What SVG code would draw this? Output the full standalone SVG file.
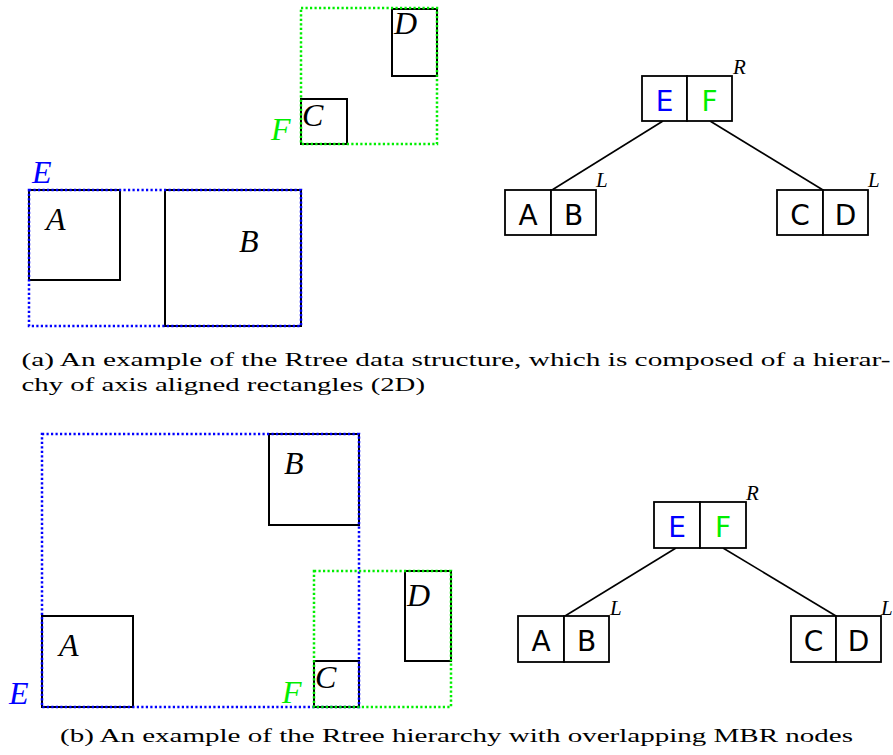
<svg xmlns="http://www.w3.org/2000/svg" width="893" height="755" viewBox="0 0 893 755">
  <style>
    .box { fill: none; stroke: #000; stroke-width: 2; }
    .mbrE { fill: none; stroke: #0000ff; stroke-width: 2.5; stroke-dasharray: 2.2 2.3; }
    .mbrF { fill: none; stroke: #00ee00; stroke-width: 2.5; stroke-dasharray: 2.2 2.3; }
    .lbl { font-family: "Liberation Serif", "DejaVu Serif", serif; font-style: italic; font-size: 32px; fill: #000; }
    .sup { font-family: "Liberation Serif", "DejaVu Serif", serif; font-style: italic; font-size: 21px; fill: #000; }
    .cell { fill: #fff; stroke: #000; stroke-width: 1.8; }
    .key { font-family: "DejaVu Sans", "Liberation Sans", sans-serif; font-size: 28px; text-anchor: middle; fill: #000; }
    .edge { stroke: #000; stroke-width: 1.6; fill: none; }
    .cap { font-family: "Liberation Serif", "DejaVu Serif", serif; font-size: 19.5px; fill: #000; }
    .blue { fill: #0000ff; }
    .green { fill: #00ee00; }
  </style>

  <!-- (a) spatial layout -->
  <g id="a-rect-A"><rect class="box" x="29" y="190" width="91" height="90"/><text class="lbl" x="46" y="230">A</text></g>
  <g id="a-rect-B"><rect class="box" x="165" y="190" width="136" height="136"/><text class="lbl" x="239" y="252">B</text></g>
  <g id="a-rect-C"><rect class="box" x="301" y="99" width="46" height="45"/><text class="lbl" x="302" y="126">C</text></g>
  <g id="a-rect-D"><rect class="box" x="392" y="9" width="45" height="67"/><text class="lbl" x="394" y="34">D</text></g>
  <g id="a-mbr-E"><rect class="mbrE" x="29" y="190" width="272" height="136"/><text class="lbl blue" x="32" y="183">E</text></g>
  <g id="a-mbr-F"><rect class="mbrF" x="301" y="8" width="136" height="136"/><text class="lbl green" x="271" y="140">F</text></g>

  <!-- (a) tree -->
  <g id="a-connectors">
    <line class="edge" x1="663" y1="121" x2="552" y2="190"/>
    <line class="edge" x1="710" y1="121" x2="823" y2="190"/>
  </g>
  <g id="a-root">
    <rect class="cell" x="642" y="76" width="45" height="45"/>
    <rect class="cell" x="687" y="76" width="45" height="45"/>
    <text class="key blue" x="664.5" y="110.5">E</text>
    <text class="key green" x="709.5" y="110.5">F</text>
    <text class="sup" x="733" y="74">R</text>
  </g>
  <g id="a-leaf-AB">
    <rect class="cell" x="505" y="190" width="46" height="45"/>
    <rect class="cell" x="551" y="190" width="45" height="45"/>
    <text class="key" x="528" y="224.5">A</text>
    <text class="key" x="573.5" y="224.5">B</text>
    <text class="sup" x="596" y="187">L</text>
  </g>
  <g id="a-leaf-CD">
    <rect class="cell" x="777" y="190" width="46" height="45"/>
    <rect class="cell" x="823" y="190" width="45" height="45"/>
    <text class="key" x="800" y="224.5">C</text>
    <text class="key" x="845.5" y="224.5">D</text>
    <text class="sup" x="868" y="187">L</text>
  </g>

  <text class="cap" x="21.5" y="366" textLength="869" lengthAdjust="spacingAndGlyphs">(a) An example of the Rtree data structure, which is composed of a hierar-</text>
  <text class="cap" x="21.5" y="391" textLength="403.5" lengthAdjust="spacingAndGlyphs">chy of axis aligned rectangles (2D)</text>

  <!-- (b) spatial layout -->
  <g id="b-rect-A"><rect class="box" x="42" y="616" width="91" height="91"/><text class="lbl" x="59" y="656">A</text></g>
  <g id="b-rect-B"><rect class="box" x="269" y="434" width="90" height="91"/><text class="lbl" x="284" y="474">B</text></g>
  <g id="b-rect-C"><rect class="box" x="314" y="661" width="45" height="46"/><text class="lbl" x="315" y="688">C</text></g>
  <g id="b-rect-D"><rect class="box" x="405" y="571" width="46" height="90"/><text class="lbl" x="407" y="606">D</text></g>
  <g id="b-mbr-E"><rect class="mbrE" x="42" y="434" width="317" height="273"/><text class="lbl blue" x="9" y="704">E</text></g>
  <g id="b-mbr-F"><rect class="mbrF" x="314" y="571" width="137" height="136"/><text class="lbl green" x="282" y="703">F</text></g>

  <!-- (b) tree -->
  <g id="b-connectors">
    <line class="edge" x1="676" y1="548" x2="565" y2="616"/>
    <line class="edge" x1="723" y1="548" x2="836" y2="616"/>
  </g>
  <g id="b-root">
    <rect class="cell" x="654" y="502" width="46" height="46"/>
    <rect class="cell" x="700" y="502" width="46" height="46"/>
    <text class="key blue" x="677" y="536.5">E</text>
    <text class="key green" x="723" y="536.5">F</text>
    <text class="sup" x="746" y="500">R</text>
  </g>
  <g id="b-leaf-AB">
    <rect class="cell" x="518" y="616" width="46" height="46"/>
    <rect class="cell" x="564" y="616" width="45" height="46"/>
    <text class="key" x="541" y="650.5">A</text>
    <text class="key" x="586.5" y="650.5">B</text>
    <text class="sup" x="610" y="615">L</text>
  </g>
  <g id="b-leaf-CD">
    <rect class="cell" x="791" y="616" width="45" height="46"/>
    <rect class="cell" x="836" y="616" width="45" height="46"/>
    <text class="key" x="813.5" y="650.5">C</text>
    <text class="key" x="858.5" y="650.5">D</text>
    <text class="sup" x="881" y="615">L</text>
  </g>

  <text class="cap" x="60" y="742" textLength="793" lengthAdjust="spacingAndGlyphs">(b) An example of the Rtree hierarchy with overlapping MBR nodes</text>
</svg>
